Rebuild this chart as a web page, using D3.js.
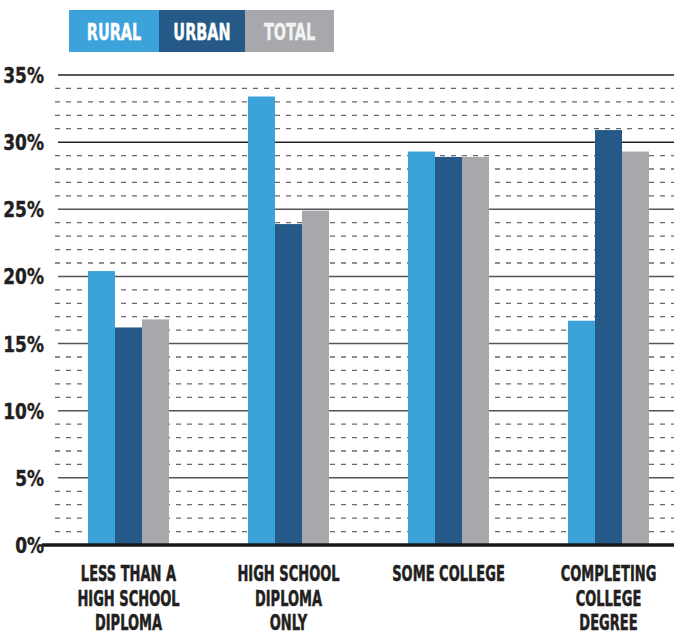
<!DOCTYPE html>
<html>
<head>
<meta charset="utf-8">
<script src="https://cdn.jsdelivr.net/npm/d3@7"></script>
<style>
  body { margin: 0; background: #fff; }
  svg text { font-family: "DejaVu Sans Condensed", "Liberation Sans Narrow", sans-serif; font-weight: bold; }
</style>
</head>
<body>
<svg id="chart"></svg>
<script>
const categories = [
  ['LESS THAN A', 'HIGH SCHOOL', 'DIPLOMA'],
  ['HIGH SCHOOL', 'DIPLOMA', 'ONLY'],
  ['SOME COLLEGE'],
  ['COMPLETING', 'COLLEGE', 'DEGREE']
];
const seriesNames = ['RURAL', 'URBAN', 'TOTAL'];
const rural = [20.4, 33.4, 29.3, 16.7];
const urban = [16.2, 23.9, 28.9, 30.9];
const total = [16.8, 24.9, 28.9, 29.3];
const yTicks = [0, 5, 10, 15, 20, 25, 30, 35];

const colors = ['#3ba2da', '#255a88', '#a7a8ab'];
const width = 674, height = 634;
const margin = { top: 75, bottom: 89, left: 58 };

const svg = d3.select('#chart').attr('width', width).attr('height', height);

const yScale = d3.scaleLinear().domain([0, 35]).range([height - margin.bottom, margin.top]);

const groups = d3.range(categories.length);
const xScale = d3.scaleBand()
  .domain(groups)
  .range([48.5, 688.5])
  .paddingInner(0.49375)
  .paddingOuter(0.246875);
const xInner = d3.scaleBand().domain([0, 1, 2]).range([0, xScale.bandwidth()]);

// squeezed text helper (condensed look)
function squeezed(sel, x, y, sx) {
  return sel.append('g').attr('transform', `translate(${x},${y}) scale(${sx},1)`).append('text');
}

// minor dashed grid
const minor = d3.range(1, 35).filter(v => v % 5 !== 0);
svg.append('g').selectAll('line').data(minor).enter().append('line')
  .attr('x1', 55).attr('x2', width)
  .attr('y1', d => yScale(d)).attr('y2', d => yScale(d))
  .attr('stroke', '#6a6a6a').attr('stroke-width', 1.3)
  .attr('stroke-dasharray', '5,6');

// major solid grid
svg.append('g').selectAll('line').data(yTicks.filter(d => d > 0)).enter().append('line')
  .attr('x1', margin.left).attr('x2', width)
  .attr('y1', d => yScale(d)).attr('y2', d => yScale(d))
  .attr('stroke', d => d >= 30 ? '#222' : '#555').attr('stroke-width', 1.5);

// bars
const rows = groups.map(i => [rural[i], urban[i], total[i]]);
const g = svg.append('g').selectAll('g').data(rows).enter().append('g')
  .attr('transform', (d, i) => `translate(${xScale(i)},0)`);
g.selectAll('rect').data(d => d).enter().append('rect')
  .attr('x', (d, j) => xInner(j))
  .attr('y', d => yScale(d))
  .attr('width', xInner.bandwidth())
  .attr('height', d => yScale(0) - yScale(d))
  .attr('fill', (d, j) => colors[j]);

// baseline
svg.append('line')
  .attr('x1', 42).attr('x2', width)
  .attr('y1', yScale(0)).attr('y2', yScale(0))
  .attr('stroke', '#1a1a1a').attr('stroke-width', 3.5);

// y labels
yTicks.forEach(v => {
  squeezed(svg, 44, yScale(v) + 8, 0.86)
    .attr('text-anchor', 'end').attr('font-size', 22).attr('fill', '#231f20')
    .attr('stroke', '#231f20').attr('stroke-width', 0.4)
    .text(v + '%');
});

// x labels
categories.forEach((lines, i) => {
  const cx = xScale(i) + xScale.bandwidth() / 2;
  lines.forEach((t, k) => {
    squeezed(svg, cx, 581 + k * 24.5, 0.69)
      .attr('text-anchor', 'middle').attr('font-size', 21).attr('fill', '#231f20')
      .attr('stroke', '#231f20').attr('stroke-width', 0.5)
      .text(t);
  });
});

// legend
const legendW = [90, 86, 89];
const lx = [69, 159, 245];
const leg = svg.append('g').selectAll('g').data(seriesNames).enter().append('g')
  .attr('transform', (d, i) => `translate(${lx[i]},10)`);
leg.append('rect').attr('width', (d, i) => legendW[i]).attr('height', 42)
  .attr('fill', (d, i) => colors[i]);
leg.each(function (d, i) {
  const c = i === 2 ? '#f2f2f2' : '#fff';
  squeezed(d3.select(this), legendW[i] / 2, 29.5, 0.7)
    .attr('text-anchor', 'middle').attr('font-size', 23)
    .attr('fill', c).attr('stroke', c).attr('stroke-width', 0.4)
    .text(d);
});
</script>
</body>
</html>
